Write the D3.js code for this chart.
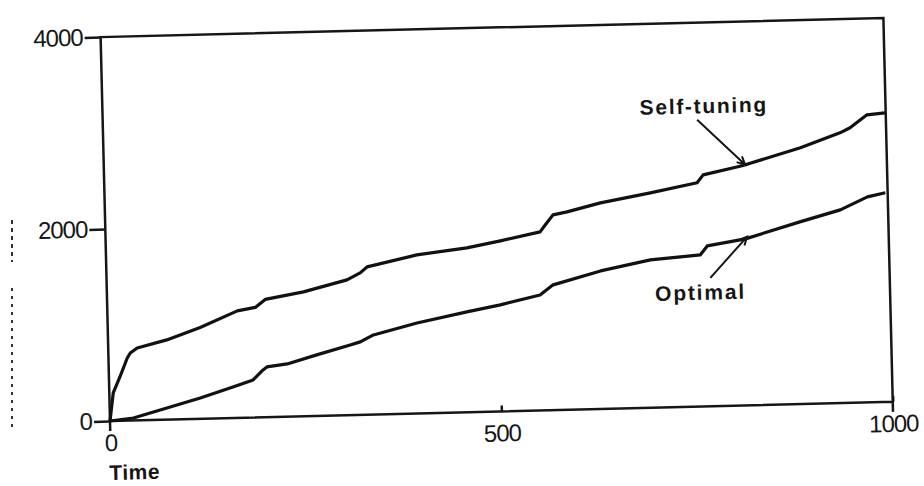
<!DOCTYPE html>
<html>
<head>
<meta charset="utf-8">
<script src="https://cdn.jsdelivr.net/npm/d3@7"></script>
<style>
    body { margin: 0; background: #fff; }
    text { fill: #161616; font-family: "Liberation Sans", Arial, sans-serif; }
    .tick text { font-size: 24px; letter-spacing: -1px; }
    .tick line { stroke: #161616; stroke-width: 2.5; }
    .label { font-size: 21px; font-weight: bold; }
</style>
</head>
<body>
<div class="wrapper-svg"></div>
<script>
// values
var selfTime = [0, 5, 14, 24, 28, 37, 75, 118, 166, 189, 202, 251, 307, 324, 333, 397, 461, 504, 555, 562, 572, 590, 633, 697, 757, 765, 815, 890, 941, 954, 976, 999];
var selfTuning = [0, 291, 456, 652, 703, 754, 830, 951, 1114, 1146, 1227, 1295, 1409, 1479, 1539, 1652, 1712, 1777, 1860, 1932, 2034, 2061, 2147, 2238, 2331, 2412, 2497, 2669, 2815, 2865, 2996, 3012];

var optTime = [0, 30, 73, 116, 158, 184, 197, 202, 228, 266, 309, 322, 339, 395, 459, 502, 553, 570, 631, 695, 759, 768, 817, 887, 939, 974, 997];
var optimal = [0, 25, 121, 217, 323, 391, 493, 523, 549, 636, 730, 760, 829, 943, 1045, 1110, 1203, 1305, 1438, 1540, 1580, 1671, 1735, 1898, 2013, 2141, 2179];

var xTicks = [0, 500, 1000];
var yTicks = [0, 2000, 4000];

// annotation anchors in data units: [text t, text v, arrow tail t, v, arrow tip t, v]
var selfNote = ['Self-tuning', 686, 3054, 759, 2987, 819, 2506];
var optNote = ['Optimal', 700, 1112, 771, 1338, 819, 1756];

var W = 783, H = 384;

var svg = d3.select('.wrapper-svg')
    .append('svg')
    .attr('width', 924)
    .attr('height', 486);

// the scanned page is a little skewed, so the whole plot is turned with it
var g = svg.append('g')
    .attr('transform', 'translate(110,421) rotate(-1.4) translate(0,' + (-H) + ')');

var x = d3.scaleLinear().domain([0, 1000]).range([0, W]);
var y = d3.scaleLinear().domain([0, 4000]).range([H, 0]);

g.append('g')
    .call(d3.axisLeft(y).tickValues(yTicks).tickFormat(d3.format('d')).tickSize(16).tickPadding(2))
    .call(function(a) { a.select('.domain').remove(); });

g.append('g')
    .attr('transform', 'translate(0,' + H + ')')
    .call(d3.axisBottom(x).tickValues(xTicks).tickFormat(d3.format('d')).tickSize(-6).tickPadding(13))
    .call(function(a) { a.select('.domain').remove(); });

// frame, sides run a bit below the time axis
g.append('path')
    .attr('d', 'M0,' + (H + 10) + 'V0H' + W + 'V' + (H + 10) + 'M0,' + H + 'H' + W)
    .attr('fill', 'none')
    .attr('stroke', '#161616')
    .attr('stroke-width', 2.5);

var line = d3.line()
    .x(function(d) { return x(d[0]); })
    .y(function(d) { return y(d[1]); });

[[selfTime, selfTuning], [optTime, optimal]].forEach(function(s) {
    g.append('path')
        .datum(d3.zip(s[0], s[1]))
        .attr('d', line)
        .attr('fill', 'none')
        .attr('stroke', '#111')
        .attr('stroke-width', 3.2)
        .attr('stroke-linejoin', 'round');
});

function note(n, spacing) {
    g.append('text')
        .classed('label', true)
        .style('letter-spacing', spacing + 'px')
        .attr('x', x(n[1]))
        .attr('y', y(n[2]))
        .text(n[0]);

    var x0 = x(n[3]), y0 = y(n[4]), x1 = x(n[5]), y1 = y(n[6]);
    var a = Math.atan2(y1 - y0, x1 - x0), len = 9, spread = 0.45;
    g.append('path')
        .attr('d', 'M' + x0 + ',' + y0 + 'L' + x1 + ',' + y1 +
            'M' + (x1 - len * Math.cos(a - spread)) + ',' + (y1 - len * Math.sin(a - spread)) +
            'L' + x1 + ',' + y1 +
            'L' + (x1 - len * Math.cos(a + spread)) + ',' + (y1 - len * Math.sin(a + spread)))
        .attr('fill', 'none')
        .attr('stroke', '#161616')
        .attr('stroke-width', 2);
}

note(selfNote, 1.7);
note(optNote, 1.8);

g.append('text')
    .classed('label', true)
    .style('letter-spacing', '0.5px')
    .attr('x', -2)
    .attr('y', H + 59)
    .text('Time');

// marks left on the margin of the scan
svg.append('line')
    .attr('x1', 12).attr('x2', 12).attr('y1', 220).attr('y2', 262)
    .attr('stroke', '#333').attr('stroke-width', 2).attr('stroke-dasharray', '4,4');
svg.append('line')
    .attr('x1', 12).attr('x2', 12).attr('y1', 288).attr('y2', 432)
    .attr('stroke', '#333').attr('stroke-width', 2).attr('stroke-dasharray', '3,5');
</script>
</body>
</html>
